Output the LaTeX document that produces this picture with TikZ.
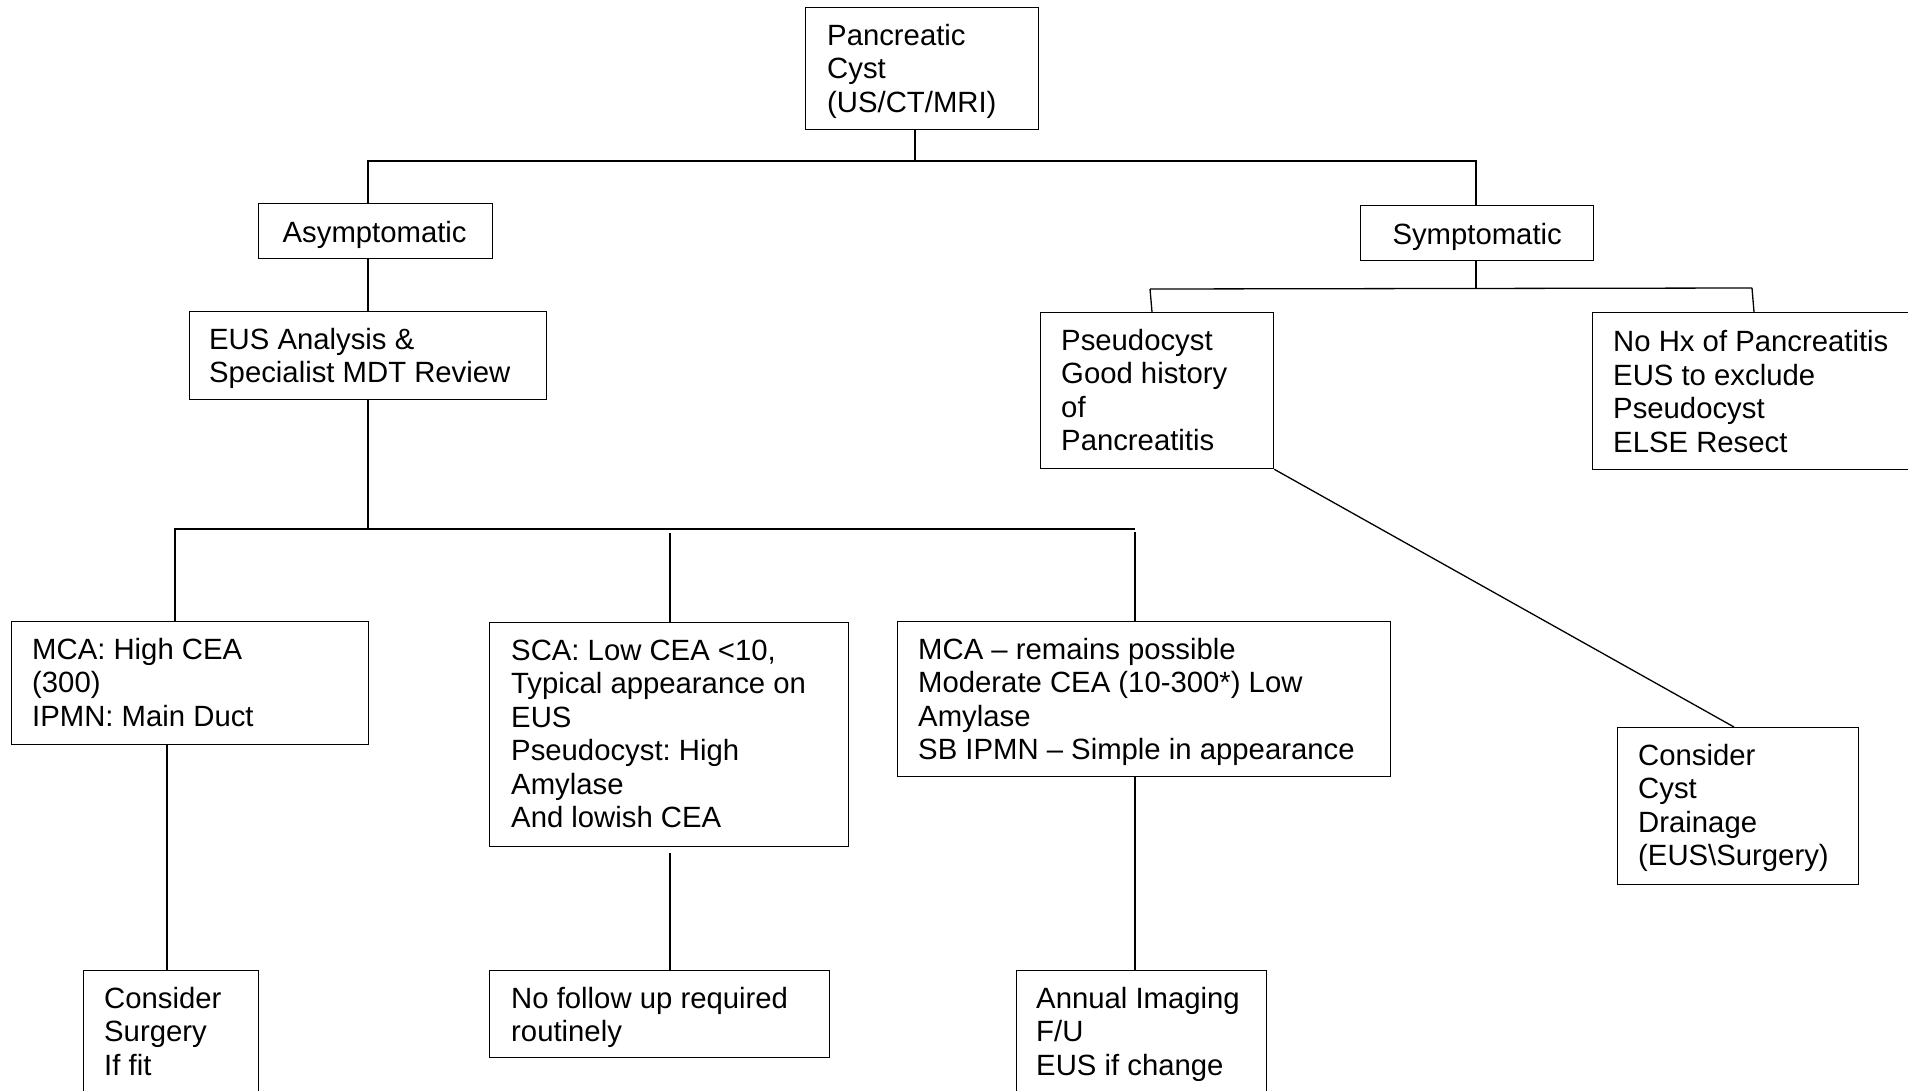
\documentclass[tikz,border=0pt]{standalone}
\usepackage{fontspec}
\setmainfont{Liberation Sans}
\usetikzlibrary{calc}
\frenchspacing
\newcommand{\boxfont}{\fontsize{29.3}{33.5}\selectfont}
\begin{document}
\begin{tikzpicture}[x=1pt,y=-1pt,
  box/.style={draw, line width=1.3pt, rectangle, inner sep=0pt, anchor=north west},
  txt/.style={anchor=north west, inner sep=0pt, align=left, font=\boxfont},
  ctxt/.style={anchor=base, inner sep=0pt, font=\boxfont},
  conn/.style={line width=1.3pt}]
\useasboundingbox (0,0) rectangle (1908,1090);
\fill[white] (0,0) rectangle (1908,1090);

% boxes
\node[box, minimum width=233pt, minimum height=122pt] (pc) at (805,7) {};
\node[box, minimum width=234pt, minimum height=55pt] (asym) at (258,203) {};
\node[box, minimum width=357pt, minimum height=88pt] (eus) at (189,311) {};
\node[box, minimum width=233pt, minimum height=55pt] (symp) at (1360,205) {};
\node[box, minimum width=233pt, minimum height=156pt] (pseudo) at (1040,312) {};
\node[box, minimum width=320pt, minimum height=157pt] (nohx) at (1592,312) {};
\node[box, minimum width=357pt, minimum height=122.5pt] (mca) at (11,621) {};
\node[box, minimum width=359pt, minimum height=224pt] (sca) at (489,622) {};
\node[box, minimum width=493pt, minimum height=155pt] (mcr) at (897,621) {};
\node[box, minimum width=175pt, minimum height=130pt] (cs) at (83,970) {};
\node[box, minimum width=340pt, minimum height=87pt] (nf) at (489,970) {};
\node[box, minimum width=250pt, minimum height=130pt] (ai) at (1016,970) {};
\node[box, minimum width=241pt, minimum height=157pt] (cyst) at (1617,727) {};

% texts
\node[txt] (pct) at ([shift={(22pt,-14.55pt)}]pc.north west) {\strut Pancreatic\\Cyst\\(US/CT/MRI)};
\node[ctxt] (asymt) at ($(asym.north)+(-1,39)$) {Asymptomatic};
\node[ctxt] (sympt) at ($(symp.north)+(0,39)$) {Symptomatic};
\node[txt] (eust) at ([shift={(20pt,-14.55pt)}]eus.north west) {\strut EUS Analysis \&\\Specialist MDT Review};
\node[txt] (pseudot) at ([shift={(21pt,-14.55pt)}]pseudo.north west) {\strut Pseudocyst\\Good history\\of\\Pancreatitis};
\node[txt] (nohxt) at ([shift={(21pt,-16pt)}]nohx.north west) {\strut No Hx of Pancreatitis\\EUS to exclude\\Pseudocyst\\ELSE Resect};
\node[txt] (mcat) at ([shift={(21pt,-14.55pt)}]mca.north west) {\strut MCA: High CEA\\(300)\\IPMN: Main Duct};
\node[txt] (scat) at ([shift={(22pt,-14.55pt)}]sca.north west) {\strut SCA: Low CEA <10,\\Typical appearance on\\EUS\\Pseudocyst: High\\Amylase\\And lowish CEA};
\node[txt] (mcrt) at ([shift={(21pt,-14.55pt)}]mcr.north west) {\strut MCA – remains possible\\Moderate CEA (10-300*) Low\\Amylase\\SB IPMN – Simple in appearance};
\node[txt] (cst) at ([shift={(21pt,-14.55pt)}]cs.north west) {\strut Consider\\Surgery\\If fit};
\node[txt] (nft) at ([shift={(22pt,-14.55pt)}]nf.north west) {\strut No follow up required\\routinely};
\node[txt] (ait) at ([shift={(20pt,-14.55pt)}]ai.north west) {\strut Annual Imaging\\F/U\\EUS if change};
\node[txt] (cystt) at ([shift={(21pt,-14.55pt)}]cyst.north west) {\strut Consider\\Cyst\\Drainage\\(EUS\textbackslash Surgery)};

% connectors
\coordinate (tb) at (915,161);
\coordinate (xa) at (368,161);
\coordinate (xs) at (1476,161);
\draw[conn] (pc.south -| tb) -- (tb);
\draw[conn] (asym.north -| xa) -- (xa) -- (xs) -- (symp.north -| xs);
\draw[conn] (asym.south -| xa) -- (eus.north -| xa);

\coordinate (mb) at (368,529);
\coordinate (m1) at (175,529);
\coordinate (m3) at (1135,529);
\coordinate (m2t) at (670,533);
\coordinate (m3t) at (1135,532);
\draw[conn] (eus.south -| mb) -- (mb);
\draw[conn] (mca.north -| m1) -- (m1) -- (m3);
\draw[conn] (m2t) -- (sca.north -| m2t);
\draw[conn] (m3t) -- (mcr.north -| m3t);

\coordinate (b1) at (167,900);
\coordinate (b2) at (670,853);
\draw[conn] (mca.south -| b1) -- (cs.north -| b1);
\draw[conn] (b2) -- (nf.north -| b2);
\draw[conn] (mcr.south -| m3) -- (ai.north -| m3);

\coordinate (sb) at (1476,289);
\coordinate (sl) at (1150,289);
\coordinate (sr) at (1752,288);
\draw[conn] (symp.south -| sb) -- (sb);
\draw[conn] (sl) -- (sr);
\draw[conn] (sl) -- ($(pseudo.north west)+(112,0)$);
\draw[conn] (sr) -- ($(nohx.north west)+(162,0)$);
\draw[conn] (pseudo.south east) -- ($(cyst.north west)+(117,0)$);
\end{tikzpicture}
\end{document}
